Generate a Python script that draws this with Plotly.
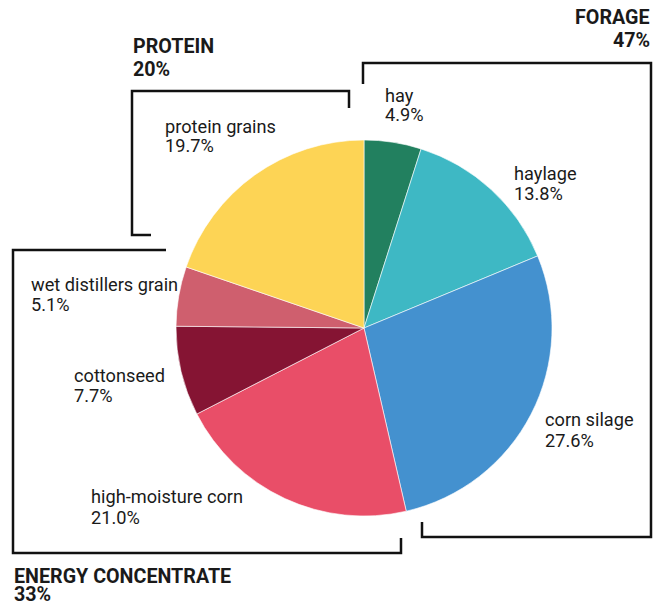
import plotly.graph_objects as go

W, H = 658, 607

# ---- data ----
labels = ["hay", "haylage", "corn silage", "high-moisture corn",
          "cottonseed", "wet distillers grain", "protein grains"]
values = [4.9, 13.8, 27.6, 21.0, 7.7, 5.1, 19.7]
colors = ["#22805f", "#3eb8c4", "#4491cf", "#e94e68",
          "#851433", "#cf5f6e", "#fdd455"]

groups = ["FORAGE", "PROTEIN", "ENERGY CONCENTRATE"]
group_pcts = [47, 20, 33]

# ---- layout helpers (pixel -> paper) ----
def px(x):
    return x / W

def py(y):
    return 1 - y / H

# label positions: (left x, baseline of first line, baseline of second line)
label_pos = {
    "hay": (384, 102, 121),
    "haylage": (513, 180, 200),
    "corn silage": (544, 426, 447),
    "high-moisture corn": (90, 503, 524),
    "cottonseed": (73, 382, 402),
    "wet distillers grain": (30, 291, 311),
    "protein grains": (164, 133, 152),
}
group_pos = {
    "FORAGE": (651, 24, 47, "right"),
    "PROTEIN": (132, 53, 76, "left"),
    "ENERGY CONCENTRATE": (13, 583, 601, "left"),
}

FS = 18.2
BFS = 19.7

fig = go.Figure(go.Pie(
    labels=labels,
    values=values,
    sort=False,
    direction="clockwise",
    rotation=0,
    marker=dict(colors=colors, line=dict(color="white", width=0.6)),
    textinfo="none",
    hoverinfo="label+percent",
    showlegend=False,
    domain=dict(x=[px(176), px(552)], y=[py(516), py(140)]),
))

annotations = []

def add_line(text, x, baseline, anchor, size, bold=False):
    # center of text bbox sits ~0.34em above baseline
    yc = baseline - 0.34 * size
    annotations.append(dict(
        x=px(x), y=py(yc), xref="paper", yref="paper",
        xanchor=anchor, yanchor="middle", showarrow=False,
        text=f"<b>{text}</b>" if bold else text,
        font=dict(family="Roboto", size=size, color="#1a1a1a"),
        borderpad=0,
    ))

for lab, val in zip(labels, values):
    x, b1, b2 = label_pos[lab]
    add_line(lab, x, b1, "left", FS)
    add_line(f"{val:.1f}%", x, b2, "left", FS)

for g, p in zip(groups, group_pcts):
    x, b1, b2, anchor = group_pos[g]
    add_line(g, x, b1, anchor, BFS, bold=True)
    add_line(f"{p}%", x, b2, anchor, BFS, bold=True)

# bracket paths (pixel coords)
brackets = [
    [(363, 84), (363, 63), (651, 63), (651, 537), (422, 537), (422, 522)],
    [(349, 108), (349, 91), (132, 91), (132, 235), (151, 235)],
    [(166, 250), (13, 250), (13, 553), (401, 553), (401, 538)],
]
shapes = []
for pts in brackets:
    path = "M " + " L ".join(f"{px(x):.5f},{py(y):.5f}" for x, y in pts)
    shapes.append(dict(type="path", path=path, xref="paper", yref="paper",
                       line=dict(color="#111111", width=2.5)))

fig.update_layout(
    width=W, height=H,
    margin=dict(l=0, r=0, t=0, b=0),
    paper_bgcolor="white",
    plot_bgcolor="white",
    annotations=annotations,
    shapes=shapes,
    font=dict(family="Roboto"),
)

fig.write_html(
    "out.html",
    config={"displayModeBar": False},
    post_script="document.body.style.margin='0';document.body.style.overflow='hidden';",
)
